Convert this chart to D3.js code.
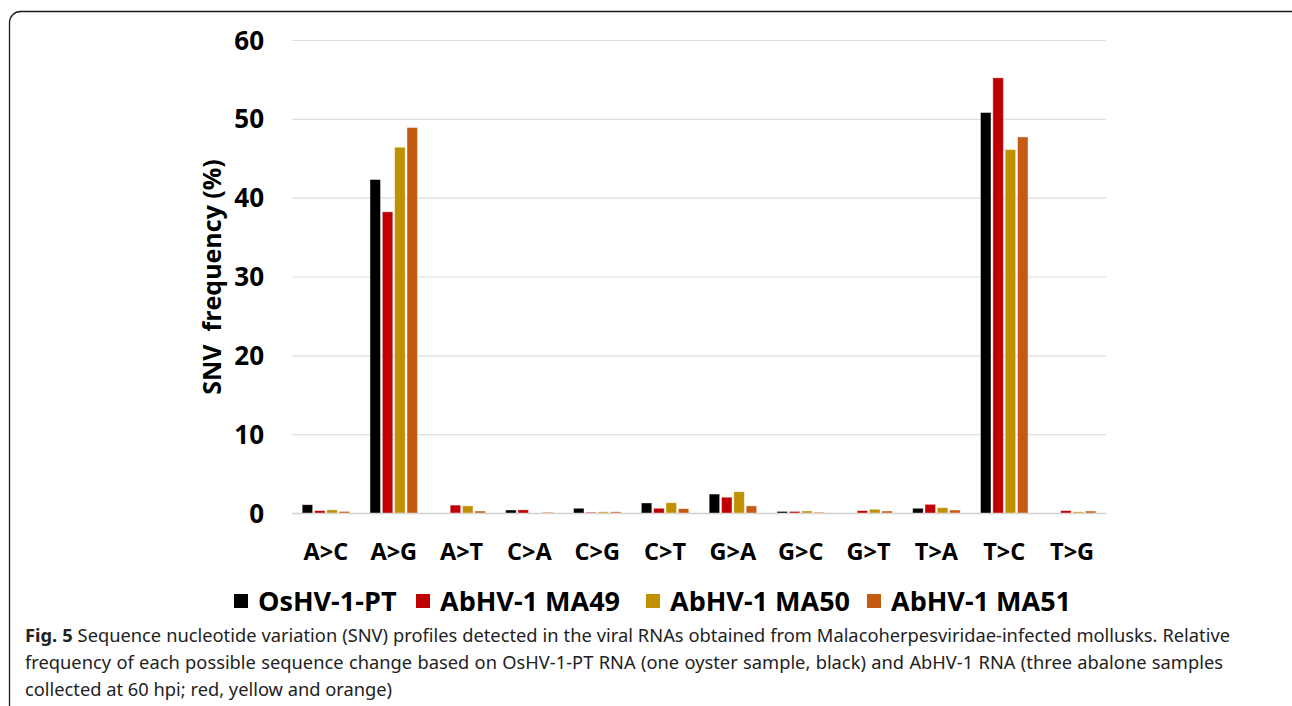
<!DOCTYPE html>
<html>
<head>
<meta charset="utf-8">
<script src="https://cdn.jsdelivr.net/npm/d3@7"></script>
<style>
  body { margin: 0; background: #fff; }
  svg { display: block; }
</style>
</head>
<body>
<div id="chart"></div>
<script>
// chart data
const categories = ["A>C", "A>G", "A>T", "C>A", "C>G", "C>T", "G>A", "G>C", "G>T", "T>A", "T>C", "T>G"];
const seriesNames = ["OsHV-1-PT", "AbHV-1 MA49", "AbHV-1 MA50", "AbHV-1 MA51"];
const osHV = [1.05, 42.3, 0, 0.38, 0.6, 1.27, 2.4, 0.2, 0, 0.6, 50.8, 0];
const ma49 = [0.3, 38.2, 1.0, 0.4, 0.1, 0.6, 2.0, 0.2, 0.3, 1.1, 55.2, 0.3];
const ma50 = [0.4, 46.4, 0.9, 0, 0.15, 1.3, 2.7, 0.25, 0.47, 0.67, 46.1, 0.15];
const ma51 = [0.2, 48.9, 0.25, 0.1, 0.15, 0.55, 0.9, 0.1, 0.25, 0.38, 47.7, 0.25];
const yTicks = [0, 10, 20, 30, 40, 50, 60];
const colors = ["#000000", "#c00000", "#bf9000", "#c55a11"];

const W = 1292, H = 706;
const plot = { left: 292, right: 1106, top: 40, bottom: 513 };
const font = "'Open Sans', 'Noto Sans', sans-serif";

const svg = d3.select("#chart").append("svg")
  .attr("width", W).attr("height", H);

// frame of the figure
svg.append("rect")
  .attr("x", 9.5).attr("y", 11.5)
  .attr("width", 1310).attr("height", 730)
  .attr("rx", 11)
  .attr("fill", "none").attr("stroke", "#1a1a1a").attr("stroke-width", 1.3);

const x = d3.scaleBand()
  .domain(categories)
  .range([plot.left, plot.right])
  .paddingInner(0.3).paddingOuter(0.15);

const xSub = d3.scaleBand()
  .domain(seriesNames)
  .range([0, x.bandwidth()])
  .paddingInner(0.15);

const y = d3.scaleLinear()
  .domain([0, 60])
  .range([plot.bottom, plot.top]);

// gridlines
svg.append("g")
  .selectAll("line")
  .data(yTicks)
  .enter().append("line")
    .attr("x1", plot.left).attr("x2", plot.right)
    .attr("y1", d => y(d) + 0.5).attr("y2", d => y(d) + 0.5)
    .attr("stroke", d => d === 0 ? "#d0d0d0" : "#dedede")
    .attr("stroke-width", d => d === 0 ? 1.5 : 1.2);

// y axis labels
const yAxis = svg.append("g")
  .attr("transform", "translate(" + (plot.left - 28) + ",0)")
  .call(d3.axisLeft(y).tickValues(yTicks).tickSize(0).tickPadding(0));
yAxis.select(".domain").remove();
yAxis.selectAll("text")
  .attr("font-family", font).attr("font-size", 26).attr("font-weight", "bold")
  .attr("fill", "#000").attr("dy", "0.35em");

// x axis labels
const xAxis = svg.append("g")
  .attr("transform", "translate(0," + (plot.bottom + 30) + ")")
  .call(d3.axisBottom(x).tickSize(0).tickPadding(0));
xAxis.select(".domain").remove();
xAxis.selectAll("text")
  .attr("font-family", font).attr("font-size", 23.5).attr("font-weight", "bold")
  .attr("fill", "#000").attr("dy", "0.71em");

// y title
svg.append("text")
  .attr("transform", "translate(221,277) rotate(-90)")
  .attr("text-anchor", "middle")
  .attr("font-family", font).attr("font-size", 25).attr("font-weight", "bold")
  .attr("xml:space", "preserve")
  .text("SNV  frequency (%)");

// bars
const allSeries = [osHV, ma49, ma50, ma51];
const rows = categories.map((c, i) => ({
  cat: c,
  vals: seriesNames.map((s, j) => ({ key: s, value: allSeries[j][i], color: colors[j] }))
}));

svg.append("g")
  .selectAll("g")
  .data(rows)
  .enter().append("g")
    .attr("transform", d => "translate(" + x(d.cat) + ",0)")
  .selectAll("rect")
  .data(d => d.vals.filter(v => v.value > 0))
  .enter().append("rect")
    .attr("x", d => xSub(d.key))
    .attr("y", d => y(d.value))
    .attr("width", xSub.bandwidth())
    .attr("height", d => y(0) - y(d.value))
    .attr("fill", d => d.color)
    .attr("stroke", "#fff").attr("stroke-opacity", 0.5).attr("stroke-width", 0.8);

// legend
const legendX = [234, 416, 646, 867];
const legend = svg.append("g");
seriesNames.forEach((s, i) => {
  legend.append("rect")
    .attr("x", legendX[i]).attr("y", 594)
    .attr("width", 14).attr("height", 14)
    .attr("fill", colors[i]);
  legend.append("text")
    .attr("x", legendX[i] + 24).attr("y", 611)
    .attr("font-family", font).attr("font-size", 27).attr("font-weight", "bold")
    .text(s);
});

// caption (first two lines justified)
const capFont = "'Noto Sans', 'Open Sans', sans-serif";
const capX = 25;
const cap = svg.append("g")
  .attr("font-family", capFont).attr("font-size", 18.3).attr("fill", "#222");
const line1 = cap.append("text").attr("x", capX).attr("y", 642);
line1.append("tspan").attr("font-weight", "bold").text("Fig. 5");
line1.append("tspan").text(" Sequence nucleotide variation (SNV) profiles detected in the viral RNAs obtained from Malacoherpesviridae-infected mollusks. Relative");
const line2 = cap.append("text").attr("x", capX).attr("y", 669)
  .text("frequency of each possible sequence change based on OsHV-1-PT RNA (one oyster sample, black) and AbHV-1 RNA (three abalone samples");
cap.append("text").attr("x", capX).attr("y", 696)
  .text("collected at 60 hpi; red, yellow and orange)");

function justify(sel, endX) {
  const node = sel.node();
  const w = node.getComputedTextLength();
  const spaces = (node.textContent.match(/ /g) || []).length;
  if (spaces > 0) sel.attr("word-spacing", (endX - capX - w) / spaces);
}
justify(line1, 1230);
justify(line2, 1223);
</script>
</body>
</html>
